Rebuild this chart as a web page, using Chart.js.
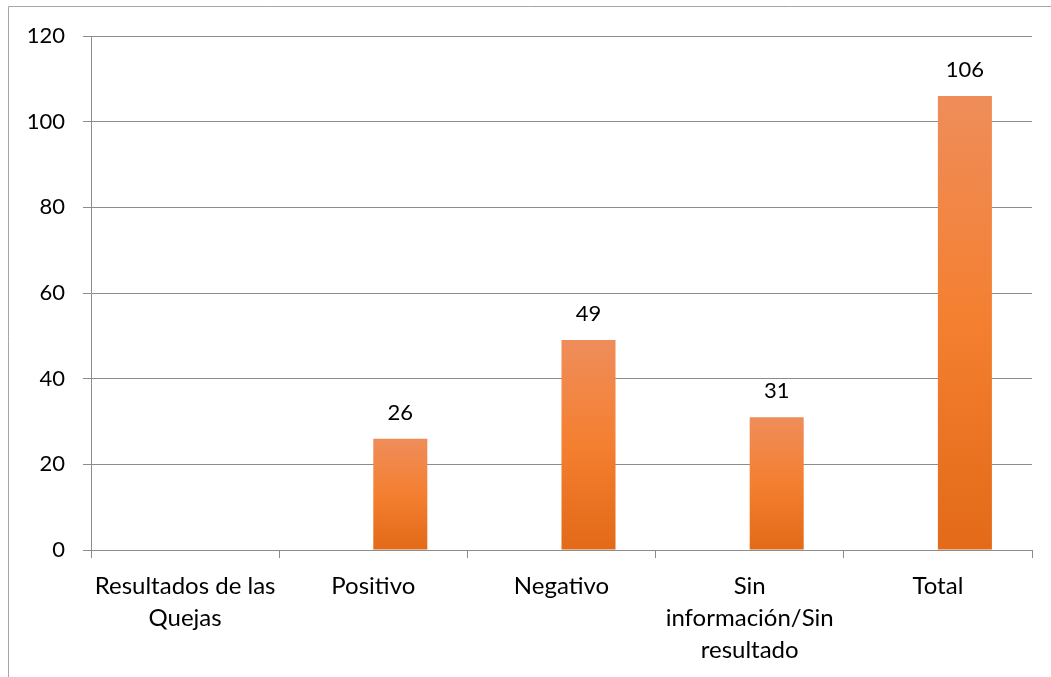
<!DOCTYPE html>
<html>
<head>
<meta charset="utf-8">
<script src="https://cdn.jsdelivr.net/npm/chart.js@4"></script>
<style>
  html, body { margin: 0; padding: 0; background: #fff; }
  #wrap { position: relative; width: 1051px; height: 677px; }
</style>
</head>
<body>
<div id="wrap"><canvas id="quejasChart"></canvas></div>
<script>
// datos del grafico
var categories = [['Resultados de las', 'Quejas'], 'Positivo', 'Negativo', ['Sin', 'información/Sin', 'resultado'], 'Total'];
var emptySeries = [null, null, null, null, null];   // serie vacia de la hoja original
var values = [null, 26, 49, 31, 106];
var yTicks = [0, 20, 40, 60, 80, 100, 120];

var fontFamily = 'Lato, "Liberation Sans", sans-serif';
var gridColor = '#8c8c8c';

// borde exterior (solo izquierda y arriba visibles)
var frameBorder = {
    id: 'frameBorder',
    beforeDraw: function (chart) {
        var ctx = chart.ctx;
        ctx.save();
        ctx.strokeStyle = '#a6a6a6';
        ctx.lineWidth = 1;
        ctx.beginPath();
        ctx.moveTo(8.5, 677);
        ctx.lineTo(8.5, 6.5);
        ctx.lineTo(1051, 6.5);
        ctx.stroke();
        ctx.restore();
    }
};

// etiquetas de valor encima de las barras
var valueLabels = {
    id: 'valueLabels',
    afterDatasetsDraw: function (chart) {
        var ctx = chart.ctx;
        var meta = chart.getDatasetMeta(1);
        ctx.save();
        ctx.fillStyle = '#000';
        ctx.font = '22px ' + fontFamily;
        ctx.textAlign = 'center';
        ctx.textBaseline = 'alphabetic';
        meta.data.forEach(function (bar, i) {
            if (values[i] === null) return;
            ctx.fillText(String(values[i]), bar.x, bar.y - 19);
        });
        ctx.restore();
    }
};

function barGradient(context) {
    var chart = context.chart;
    var v = context.raw;
    if (!chart.chartArea || v === null || v === undefined) return '#f47e30';
    var yScale = chart.scales.y;
    var top = yScale.getPixelForValue(v);
    var bottom = yScale.getPixelForValue(0);
    var g = chart.ctx.createLinearGradient(0, top, 0, bottom);
    g.addColorStop(0, '#ef8d5a');
    g.addColorStop(0.5, '#f47f30');
    g.addColorStop(1, '#e26a18');
    return g;
}

new Chart(document.getElementById('quejasChart'), {
    type: 'bar',
    data: {
        labels: categories,
        datasets: [{
            data: emptySeries,
            backgroundColor: '#4f81bd',
            borderWidth: 0
        }, {
            data: values,
            backgroundColor: barGradient,
            borderWidth: 0
        }]
    },
    options: {
        responsive: true, maintainAspectRatio: false, animation: false,
        layout: { padding: { left: 8, top: 36, right: 19, bottom: 0 } },
        datasets: { bar: { categoryPercentage: 0.574, barPercentage: 1 } },
        plugins: {
            legend: { display: false },
            title: { display: false },
            tooltip: { enabled: false }
        },
        scales: {
            x: {
                grid: { drawOnChartArea: false, drawTicks: true, tickLength: 8, color: gridColor, offset: true },
                border: { display: true, color: gridColor },
                ticks: {
                    color: '#000', padding: 12, maxRotation: 0, autoSkip: false,
                    font: { family: fontFamily, size: 24, lineHeight: 1.333 }
                },
                afterFit: function (scale) { scale.height = 127; }
            },
            y: {
                min: 0, max: 120,
                afterBuildTicks: function (scale) {
                    scale.ticks = yTicks.map(function (v) { return { value: v }; });
                },
                grid: { color: gridColor, tickLength: 8, drawTicks: true },
                border: { display: true, color: gridColor },
                ticks: {
                    color: '#000', padding: 18,
                    font: { family: fontFamily, size: 22 }
                },
                afterFit: function (scale) { scale.width = 83; }
            }
        }
    },
    plugins: [frameBorder, valueLabels]
});
</script>
</body>
</html>
